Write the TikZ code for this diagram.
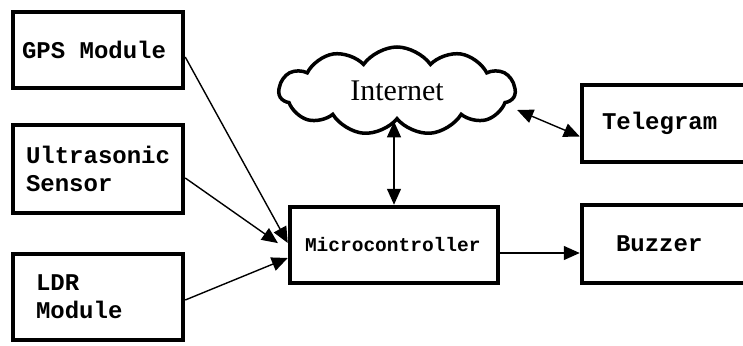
\documentclass[tikz,border=0pt]{standalone}
\usepackage{fontspec}
\setmainfont{Liberation Serif}
\newfontfamily\monofont{Liberation Mono}
\newcommand\boxfont{\monofont\bfseries\fontsize{24}{28}\selectfont}
\usetikzlibrary{shapes.symbols,arrows.meta}
\begin{document}
\begin{tikzpicture}[x={(1pt,0)},y={(0,-1pt)},
    box/.style={draw,line width=4.5pt,align=left,inner ysep=0pt,font=\boxfont},
    link/.style={line width=1.4pt,-{Triangle[length=16pt,width=14pt]}},
    both/.style={link,{Triangle[length=16pt,width=14pt]}-{Triangle[length=16pt,width=14pt]}}]
    \useasboundingbox (0,0) rectangle (743,345);
    \clip (0,0) rectangle (743,345);
    \fill[white] (0,0) rectangle (743,345);
    % inputs
    \node[box,minimum width=170pt,minimum height=76pt,inner xsep=9pt,text width=152pt] (gps) at (98,50) {GPS\hspace{0.6em}Module};
    \node[box,minimum width=170pt,minimum height=88pt,inner xsep=13pt,text width=144pt] (sonic) at (98,169) {Ultrasonic\\Sensor};
    \node[box,minimum width=170pt,minimum height=86pt,inner xsep=23pt,text width=124pt] (ldr) at (98,297) {LDR\\Module};
    % controller and outputs
    \node[box,minimum width=208pt,minimum height=76pt,inner xsep=15pt,text width=178pt,font=\monofont\bfseries\fontsize{19.5}{22}\selectfont] (micro) at (394,245) {Microcontroller};
    \node[box,minimum width=178pt,minimum height=77pt,inner xsep=20pt,text width=138pt] (tele) at (671,123.5) {Telegram};
    \node[box,minimum width=178pt,minimum height=78pt,inner xsep=34pt,text width=110pt] (buzz) at (671,244) {Buzzer};
    \node[draw,cloud,cloud puffs=11,cloud puff arc=110,aspect=2.5,line width=3.5pt,minimum width=236pt,minimum height=88pt,font=\fontsize{30}{32}\selectfont] (net) at (397,91) {Internet};
    % links
    \draw[link] ([yshift=-7pt]gps.east)--([yshift=2pt]micro.west);
    \draw[link,shorten >=12pt] ([yshift=-9pt]sonic.east)--([yshift=-5pt]micro.west);
    \draw[link] ([yshift=-3pt]ldr.east)--([yshift=-13pt]micro.west);
    \draw[both] (micro.north)--(micro.north|-net.south);
    \draw[both] ([yshift=-19pt]net.east)--([yshift=-13pt]tele.west);
    \coordinate (mb) at ([yshift=-8pt]micro.east);
    \draw[link] (mb)--(mb-|buzz.west);
\end{tikzpicture}
\end{document}
